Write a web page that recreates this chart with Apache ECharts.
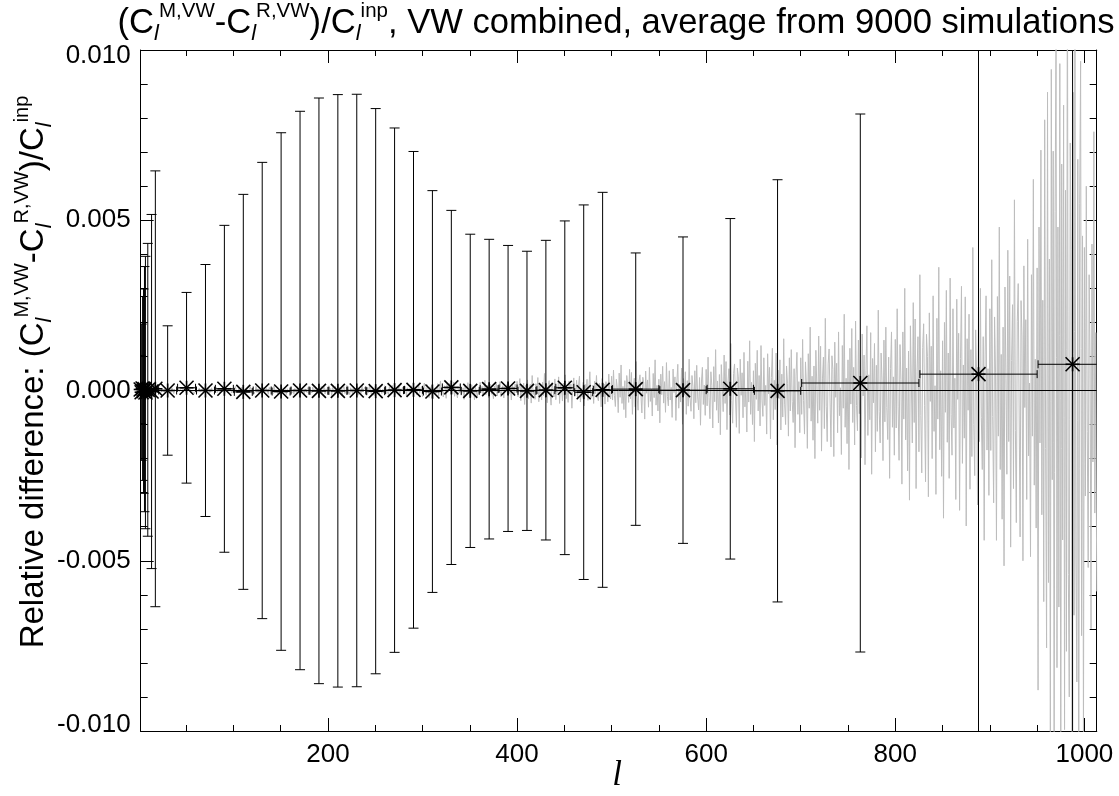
<!DOCTYPE html>
<html><head><meta charset="utf-8">
<script src="https://cdn.jsdelivr.net/npm/echarts@6/dist/echarts.min.js"></script>
<style>html,body{margin:0;padding:0;background:#fff}#c{width:1119px;height:796px}</style>
</head><body><div id="c"></div>
<script>
// ---------- DATA ----------
const L_START = 2;
const L_MIN = 2, L_MAX = 1013;
// raw per-l relative difference, units of 1e-5, l = 2 .. 1013
const rawDiff = [
18,-25,6,-9,14,3,-12,-4,8,2,
-7,5,9,-3,-10,4,1,-6,7,-2,
3,-8,-1,6,4,-5,9,-3,-7,2,
5,1,-6,8,-2,-9,3,6,-4,0,
7,-3,-8,2,10,-5,-1,4,-6,3,
-2,8,5,-7,1,-4,6,-9,2,4,
-5,0,7,-3,-8,5,2,-6,9,-1,
-4,3,6,-7,1,8,-2,-5,4,-3,
9,-6,2,5,-8,-1,7,-4,3,-9,
6,1,-5,4,-2,8,-7,3,
5,-9,12,2,-6,-11,7,3,-4,10,
-8,1,6,-13,4,9,-2,-7,11,-5,
3,8,-10,-1,12,-6,5,-9,2,7,
-12,4,10,-3,-7,6,1,-11,9,-4,
8,-2,-9,13,-5,3,7,-10,1,6,
-8,11,-3,-6,9,2,-12,5,8,-4,
-1,10,-7,4,-11,6,3,-9,12,-5,
2,-8,7,11,-4,-10,5,1,-6,9,
-13,6,3,-7,10,-2,-5,8,-11,4,
7,-9,1,12,-6,-3,9,-10,5,2,
-11,14,-4,6,-15,9,2,-8,12,-6,
3,-13,10,-1,7,-14,5,11,-9,-2,
15,-7,4,-12,8,1,-10,13,-5,6,
-3,11,-14,7,2,-9,16,-4,-8,10,
5,-12,9,-6,14,-2,-11,7,3,-15,
12,-5,-1,10,-13,6,8,-9,4,-7,
14,-10,2,6,-12,11,-4,-8,15,-3,
7,-14,9,1,-6,13,-11,5,-2,10,
-9,4,12,-15,8,-3,6,-10,14,-1,
-7,11,-5,9,-13,3,16,-8,-4,12,
-18,9,22,-6,-14,17,4,-21,11,-3,
15,-25,8,12,-10,-4,20,-16,6,28,
-12,3,-19,14,7,-23,18,-5,-9,21,
-2,16,-11,25,-17,5,10,-22,13,-7,
19,-14,-3,8,-26,15,2,-12,23,-9,
6,-20,17,-1,11,-27,9,14,-18,4,
-10,24,-6,12,-15,3,30,-13,-8,16,
-21,7,18,-11,5,-24,13,-3,20,-16,
9,-7,26,-19,2,14,-22,11,-5,17,
-13,22,-9,4,-28,16,8,-14,19,-6,
27,-18,9,35,-30,12,-8,22,-41,15,
-5,31,-24,6,18,-37,44,-12,3,-26,
20,-9,38,-33,14,-2,-28,25,-15,50,
-21,8,-36,17,29,-11,-43,23,5,-19,
34,-27,12,-6,40,-38,16,9,-31,22,
-14,46,-24,3,-35,28,-10,19,-52,11,
37,-16,-8,30,-25,13,42,-34,6,-20,
24,-45,18,-3,33,-29,10,55,-22,-12,
15,-38,27,-9,44,-17,-30,21,8,-48,
35,-11,19,-40,26,4,-33,48,-15,-25,
42,-28,60,-15,-47,33,8,-65,51,-20,
75,-38,12,-56,29,-80,44,18,-35,62,
-24,53,-70,10,36,-48,85,-19,-58,27,
46,-13,-66,39,22,-84,57,-8,31,-49,
68,-32,4,-75,50,-21,90,-43,15,-60,
33,-95,48,-12,71,-37,26,-64,82,-17,
-45,58,-28,9,-79,63,-6,40,-88,24,
77,-52,18,-34,66,-99,35,-14,55,-70,
29,-46,92,-23,-61,44,12,-83,58,-36,
74,-19,-57,38,-102,25,68,-41,16,-73,
62,-45,98,-20,-83,55,14,-110,70,-33,
120,-58,28,-95,47,-130,76,10,-62,104,
-38,85,-115,22,64,-72,138,-30,-96,50,
78,-18,-108,66,40,-126,92,-14,52,-80,
112,-48,6,-122,86,-34,146,-70,24,-100,
58,-150,80,-26,118,-60,44,-104,132,-28,
-76,96,-44,15,-128,108,-10,68,-142,38,
124,-86,30,-56,110,-160,60,-24,90,-116,
48,-78,152,-40,-100,72,20,-134,96,-60,
120,-32,-94,64,-168,42,112,-70,26,-124,
96,-70,150,-30,-128,84,20,-170,108,-52,
186,-90,42,-146,72,-200,118,14,-96,160,
-58,130,-178,34,98,-112,212,-46,-150,78,
122,-28,-166,102,62,-194,142,-20,80,-124,
172,-74,8,-188,132,-52,224,-108,36,-156,
90,-232,124,-40,182,-94,68,-160,204,-44,
-118,148,-68,22,-198,166,-16,104,-218,58,
190,-132,46,-86,170,-246,94,-36,138,-180,
74,-120,236,-62,-154,110,30,-206,148,-92,
186,-50,-144,98,-258,64,172,-108,40,-190,
150,-110,240,-48,-205,135,32,-275,172,-84,
300,-145,66,-236,116,-322,190,22,-154,258,
-94,210,-288,55,158,-180,340,-74,-242,126,
196,-45,-268,165,100,-312,228,-32,130,-200,
278,-120,14,-305,212,-84,362,-174,58,-252,
146,-375,200,-64,294,-152,110,-258,330,-70,
-190,240,-110,36,-320,268,-26,168,-352,94,
306,-214,75,-140,275,-398,152,-58,224,-290,
120,-194,420,-100,-250,178,48,-336,240,-150,
300,-80,-232,158,-440,104,278,-175,64,-308,
240,-176,384,-76,-330,216,52,-440,276,-134,
480,-232,106,-378,186,-515,304,36,-246,412,
-150,336,-460,88,252,-288,560,-118,-388,202,
314,-72,-430,264,160,-500,366,-50,208,-320,
444,-192,22,-488,340,-134,620,-278,92,-404,
360,-880,480,-154,706,-365,265,-620,795,-170,
-756,876,-564,386,-1068,943,-262,703,-1145,525,
1034,-814,480,-636,960,-1255,665,-439,838,-996,
588,-766,1360,-540,-900,727,415,-1106,876,-660,
1020,-492,-856,679,-1400,550,967,-720,454,-1039,
420,-310,600,-120,-520,340,80,-700,430,-210,760,-360,170,-590
];
// binned averages: low multipoles, then bins of 20, 50, 125 and the last one
const binLo  = [2,3,4,5,6,7,8,12,16,
  21,41,61,81,101,121,141,161,181,201,221,241,261,281,301,321,341,361,381,401,421,441,461,481,
  501,551,601,651, 701,826,951];
const binHi  = [2,3,4,5,6,7,11,15,20,
  40,60,80,100,120,140,160,180,200,220,240,260,280,300,320,340,360,380,400,420,440,460,480,500,
  550,600,650,700, 825,950,1024];
const binCenter = [2,3,4,5,6,7,9.5,13.5,17.5,
  30.5,50.5,70.5,90.5,110.5,130.5,150.5,170.5,190.5,210.5,230.5,250.5,270.5,290.5,310.5,330.5,350.5,370.5,390.5,410.5,430.5,450.5,470.5,490.5,
  525.5,575.5,625.5,675.5, 763,888,987.5];
// units 1e-5
const binValue = [3,-5,6,-2,4,-6,2,-3,5,
  0,8,0,5,-4,0,-3,0,-1,-1,0,-2,1,2,-3,9,-1,4,6,-1,1,8,-5,2,
  4,1,5,-1, 22,48,77];
// half-width of error bar, units 1e-4
const binErr = [10,20,27,30,36,40,43,52,64,
  19,28,37,48,58,67,76,82,86,87,87,83,77,70,59,52,46,44,42,41,44,49,55,58,
  40,45,50,62, 79,200,300];
const xMajor = [200,400,600,800,1000];
const xMinor = [50,100,150,250,300,350,450,500,550,650,700,750,850,900,950];

// ---------- CHART ----------
const FONT = 'Liberation Sans, Arial, Helvetica, sans-serif';
const rawData = rawDiff.map((v, i) => [L_START + i, v * 1e-5]);
const binData = binCenter.map((c, i) => [c, binValue[i] * 1e-5, binErr[i] * 1e-4, binLo[i], binHi[i]]);

function xAxisDef(pos, ticks, len, showLabel) {
  return {
    type: 'value', position: pos, min: L_MIN, max: L_MAX, gridIndex: 0,
    axisLine: {show: true, onZero: false, lineStyle: {color: '#000', width: 1}},
    axisTick: {show: true, inside: true, length: len, customValues: ticks, lineStyle: {color: '#000', width: 1}},
    axisLabel: {show: showLabel, customValues: ticks, fontSize: 26, fontFamily: FONT, color: '#000', margin: 11,
      formatter: v => String(v)},
    splitLine: {show: false}
  };
}
function yAxisDef(pos, showLabel) {
  const lab = {fontSize: 26, fontFamily: FONT, color: '#000'};
  return {
    type: 'value', position: pos, min: -0.010, max: 0.010, interval: 0.005,
    axisLine: {show: true, onZero: false, lineStyle: {color: '#000', width: 1}},
    axisTick: {show: true, inside: true, length: 13, lineStyle: {color: '#000'}},
    minorTick: {show: true, splitNumber: 5, length: 7, lineStyle: {color: '#000'}},
    axisLabel: {show: showLabel, fontSize: 26, fontFamily: FONT, color: '#000', margin: 10,
      formatter: v => {
        const s = v.toFixed(3);
        if (v > 0.0099) return '{t|' + s + '}';
        if (v < -0.0099) return '{b|' + s + '}';
        return s;
      },
      rich: {
        t: Object.assign({padding: [12, 0, 0, 0]}, lab),
        b: Object.assign({padding: [0, 0, 12, 0]}, lab)
      }},
    splitLine: {show: false}, minorSplitLine: {show: false}
  };
}

const chart = echarts.init(document.getElementById('c'), null, {renderer: 'canvas'});
function richSet(main, sub, sup, lh, slh) {
  return {
    n: {fontSize: main, fontFamily: FONT, lineHeight: lh, fill: '#000'},
    sub: {fontSize: sub, fontStyle: 'italic', fontFamily: FONT, lineHeight: slh, verticalAlign: 'bottom', fill: '#000'},
    sup: {fontSize: sup, fontFamily: FONT, lineHeight: slh, verticalAlign: 'top', fill: '#000'}
  };
}
const FORMULA = '(C}{sub|l}{sup|M,VW}{n|-C}{sub|l}{sup|R,VW}{n|)/C}{sub|l}{sup|inp}';

chart.setOption({
  animation: false,
  backgroundColor: '#fff',
  grid: {left: 140.7, right: 22.3, top: 50, bottom: 65, containLabel: false, outerBoundsMode: 'none'},
  xAxis: [
    xAxisDef('bottom', xMajor, 13, true),
    xAxisDef('bottom', xMinor, 6, false),
    xAxisDef('top', xMajor, 13, false),
    xAxisDef('top', xMinor, 6, false)
  ],
  yAxis: [yAxisDef('left', true), yAxisDef('right', false)],
  graphic: [
    {type: 'text', x: 616, y: 23, style: {
      text: '{n|' + FORMULA + '{n|, VW combined, average from 9000 simulations}',
      textAlign: 'center', textVerticalAlign: 'middle',
      rich: richSet(34.6, 22, 20.5, 44, 20)
    }},
    {type: 'text', x: 34, y: 372, rotation: Math.PI / 2, style: {
      text: '{n|Relative difference: ' + FORMULA,
      textAlign: 'center', textVerticalAlign: 'middle',
      rich: richSet(33, 22, 20, 43, 20)
    }},
    {type: 'text', x: 617, y: 776, style: {
      text: 'l', font: 'italic 35px "Liberation Serif", "Times New Roman", serif',
      textAlign: 'center', textVerticalAlign: 'middle', fill: '#000'}}
  ],
  series: [
    {type: 'line', xAxisIndex: 0, yAxisIndex: 0, data: rawData, showSymbol: false, symbol: 'none',
      lineStyle: {color: '#bdbdbd', width: 1}, clip: true, z: 1},
    {type: 'line', xAxisIndex: 0, yAxisIndex: 0, data: [[L_MIN, 0], [L_MAX, 0]], symbol: 'none',
      lineStyle: {color: '#000', width: 1}, z: 2},
    {type: 'custom', xAxisIndex: 0, yAxisIndex: 0, data: binData, z: 3,
      renderItem: function (params, api) {
        const cs = params.coordSys;
        const top = cs.y, bot = cs.y + cs.height, left = cs.x, right = cs.x + cs.width;
        const lc = api.value(0), v = api.value(1), e = api.value(2), lo = api.value(3), hi = api.value(4);
        const p = api.coord([lc, v]);
        const pt = api.coord([lc, v + e]);
        const pb = api.coord([lc, v - e]);
        const pl = api.coord([lo, v]);
        const pr = api.coord([hi, v]);
        const cy = y => Math.max(top, Math.min(bot, y));
        const cx = x => Math.max(left, Math.min(right, x));
        const st = {stroke: '#000', lineWidth: 1, fill: null};
        const ch = [];
        const L = (x1, y1, x2, y2, s) => ch.push({type: 'line', shape: {x1, y1, x2, y2}, style: s || st});
        L(p[0], cy(pt[1]), p[0], cy(pb[1]));
        if (pt[1] >= top) L(Math.max(left, p[0] - 5), pt[1], p[0] + 5, pt[1]);
        if (pb[1] <= bot) L(Math.max(left, p[0] - 5), pb[1], p[0] + 5, pb[1]);
        if (hi > lo) {
          const xl = cx(pl[0]), xr = cx(pr[0]);
          L(xl, p[1], xr, p[1]);
          if (pl[0] >= left) L(pl[0], p[1] - 4, pl[0], p[1] + 4);
          if (pr[0] <= right) L(pr[0], p[1] - 4, pr[0], p[1] + 4);
        }
        const ms = {stroke: '#000', lineWidth: 1.6, fill: null};
        const r = 7;
        L(p[0] - r, p[1] - r, p[0] + r, p[1] + r, ms);
        L(p[0] - r, p[1] + r, p[0] + r, p[1] - r, ms);
        L(p[0] - r, p[1], p[0] + r, p[1], ms);
        L(p[0], p[1] - r, p[0], p[1] + r, ms);
        return {type: 'group', children: ch};
      }
    }
  ]
});
</script>
</body></html>
